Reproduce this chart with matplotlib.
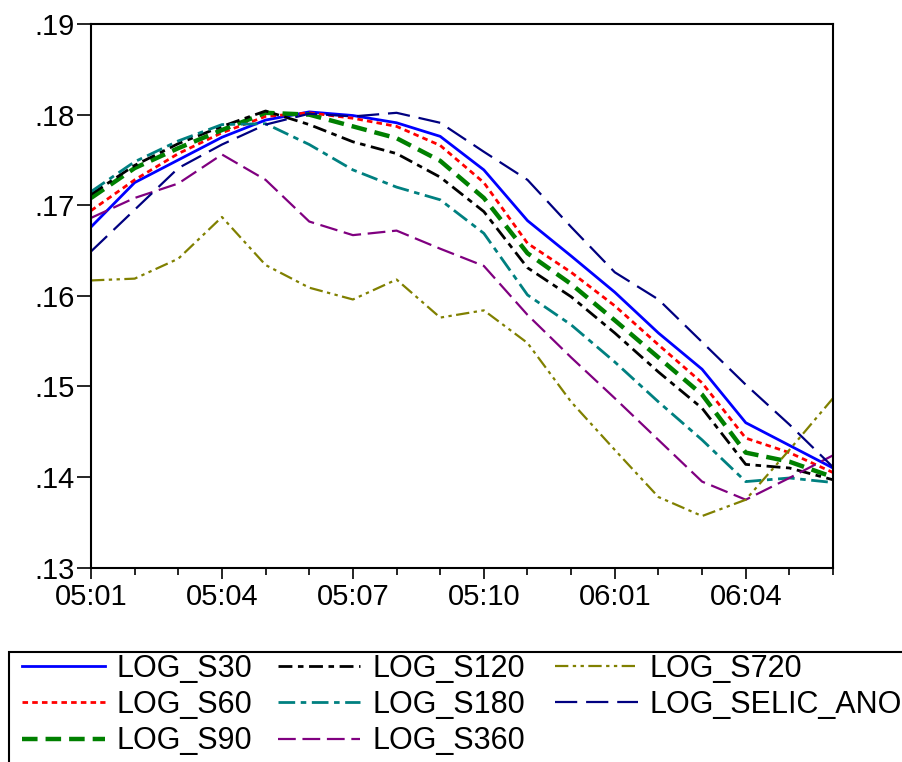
import numpy as np
import matplotlib
matplotlib.use("Agg")
import matplotlib.pyplot as plt
from matplotlib.ticker import FuncFormatter, FixedLocator
from matplotlib.patches import Rectangle

plt.rcParams["font.family"] = ["Liberation Sans Narrow", "Liberation Sans", "DejaVu Sans"]

# periodos (ano:mes)
periods = ["05:01", "05:02", "05:03", "05:04", "05:05", "05:06", "05:07", "05:08", "05:09",
           "05:10", "05:11", "05:12", "06:01", "06:02", "06:03", "06:04", "06:05", "06:06"]
tick_labels = ["05:01", "05:04", "05:07", "05:10", "06:01", "06:04"]
y_ticks = [0.13, 0.14, 0.15, 0.16, 0.17, 0.18, 0.19]

log_s30 = [0.1676, 0.1725, 0.1750, 0.1775, 0.1794, 0.1803, 0.1799, 0.1791, 0.1776,
           0.1739, 0.1683, 0.1644, 0.1604, 0.1559, 0.1519, 0.1460, 0.1435, 0.1410]
log_s60 = [0.1694, 0.1728, 0.1757, 0.1780, 0.1798, 0.1802, 0.1796, 0.1787, 0.1766,
           0.1725, 0.1658, 0.1626, 0.1589, 0.1546, 0.1504, 0.1443, 0.1427, 0.1405]
log_s90 = [0.1708, 0.1741, 0.1763, 0.1783, 0.1802, 0.1800, 0.1787, 0.1774, 0.1749,
           0.1708, 0.1647, 0.1613, 0.1573, 0.1532, 0.1491, 0.1427, 0.1417, 0.1400]
log_s120 = [0.1712, 0.1744, 0.1768, 0.1787, 0.1804, 0.1789, 0.1770, 0.1757, 0.1731,
            0.1693, 0.1631, 0.1599, 0.1559, 0.1516, 0.1476, 0.1414, 0.1410, 0.1397]
log_s180 = [0.1715, 0.1748, 0.1771, 0.1789, 0.1790, 0.1767, 0.1739, 0.1720, 0.1706,
            0.1669, 0.1601, 0.1568, 0.1527, 0.1483, 0.1441, 0.1395, 0.1399, 0.1394]
log_s360 = [0.1686, 0.1708, 0.1724, 0.1756, 0.1728, 0.1682, 0.1667, 0.1672, 0.1652,
            0.1633, 0.1579, 0.1532, 0.1487, 0.1441, 0.1395, 0.1375, 0.1399, 0.1424]
log_s720 = [0.1617, 0.1619, 0.1641, 0.1687, 0.1634, 0.1609, 0.1596, 0.1618, 0.1576,
            0.1584, 0.1548, 0.1483, 0.1430, 0.1378, 0.1357, 0.1375, 0.1430, 0.1487]
log_selic_ano = [0.1649, 0.1695, 0.1741, 0.1767, 0.1789, 0.1801, 0.1798, 0.1802, 0.1791,
                 0.1759, 0.1728, 0.1676, 0.1626, 0.1596, 0.1549, 0.1502, 0.1458, 0.1411]

series = [
    ("LOG_S30", log_s30, "#0000ff", "-", 2.0),
    ("LOG_S60", log_s60, "#ff0000", (0, (2.0, 1.5)), 2.0),
    ("LOG_S90", log_s90, "#008000", (0, (3.5, 1.8)), 3.2),
    ("LOG_S120", log_s120, "#000000", (0, (5, 2, 2, 2)), 2.0),
    ("LOG_S180", log_s180, "#008080", (0, (6, 2, 2, 2)), 2.0),
    ("LOG_S360", log_s360, "#800080", (0, (8, 3)), 1.6),
    ("LOG_S720", log_s720, "#808000", (0, (6, 2, 1.5, 2, 1.5, 2)), 1.6),
    ("LOG_SELIC_ANO", log_selic_ano, "#000080", (0, (10, 4)), 1.6),
]

fig = plt.figure(figsize=(9.03, 7.62), dpi=100)
ax = fig.add_axes([0.1008, 0.255, 0.8217, 0.7135])

x = np.arange(len(periods))
for name, vals, color, ls, lw in series:
    ax.plot(x, vals, color=color, linestyle=ls, linewidth=lw, label=name)

ax.set_xlim(0, len(periods) - 1)
ax.set_ylim(0.13, 0.19)
ax.set_yticks(y_ticks)
ax.yaxis.set_major_formatter(FuncFormatter(lambda v, p: f"{v:.2f}".lstrip("0")))

major_idx = [periods.index(t) for t in tick_labels]
ax.xaxis.set_major_locator(FixedLocator(major_idx))
ax.xaxis.set_minor_locator(FixedLocator(x))
ax.set_xticklabels(tick_labels)

ax.tick_params(axis="both", which="major", labelsize=21, width=1.2, direction="out")
ax.tick_params(axis="x", which="major", length=8, pad=3)
ax.tick_params(axis="x", which="minor", length=5, width=1.2)
ax.tick_params(axis="y", which="major", length=10, pad=2)
for s in ax.spines.values():
    s.set_linewidth(1.5)

# caixa da legenda (cortada pela borda da figura)
fig.patches.append(Rectangle((0.0095, -0.05), 1.2, 0.05 + 1 - 652 / 762,
                             transform=fig.transFigure, fill=False,
                             edgecolor="black", linewidth=1.5, clip_on=False))

handles, labels = ax.get_legend_handles_labels()
col_x = [22, 278, 555]
groups = [(0, 3), (3, 6), (6, 8)]
for cx, (a, b) in zip(col_x, groups):
    lg = fig.legend(handles[a:b], labels[a:b], loc="upper left",
                    bbox_to_anchor=(cx / 903, 1 - 654 / 762), ncol=1,
                    frameon=False, fontsize=22, handlelength=2.7, handletextpad=0.4,
                    labelspacing=0.2, borderaxespad=0, borderpad=0)

fig.savefig("out.png", dpi=100)
